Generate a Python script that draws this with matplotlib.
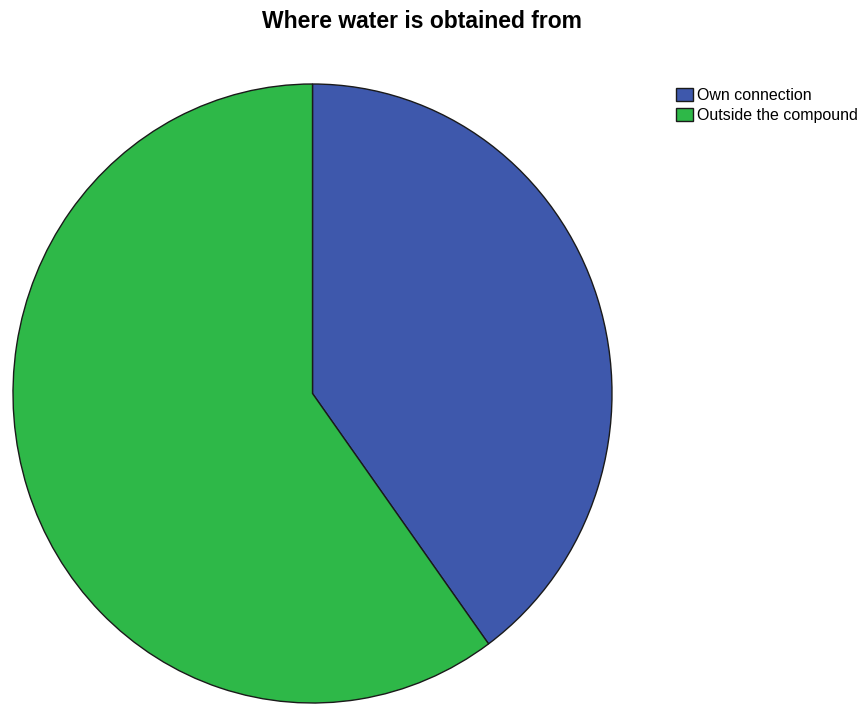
import matplotlib
matplotlib.use("Agg")
import matplotlib.pyplot as plt

plt.rcParams["font.family"] = ["Liberation Sans", "DejaVu Sans"]

# Where respondents get their water
categories = ["Own connection", "Outside the compound"]
shares = [40.0, 60.0]
colors = ["#3E58AC", "#2EB848"]

fig = plt.figure(figsize=(8.64, 7.04), dpi=100)
# pie fills the axes box; slightly taller than wide
ax = fig.add_axes([13 / 864, 1 / 704, 599 / 864, 619 / 704])

wedges, _ = ax.pie(
    shares,
    colors=colors,
    startangle=90,
    counterclock=False,
    wedgeprops={"edgecolor": "#1a1a1a", "linewidth": 1.0},
)
ax.set_xlim(-1.0, 1.0)
ax.set_ylim(-1.0, 1.0)
ax.set_aspect("auto")

fig.text(422 / 864, 1 - 21 / 704, "Where water is obtained from",
         ha="center", va="center", fontsize=16.5, fontweight="bold")

fig.legend(wedges, categories, loc="upper left",
           bbox_to_anchor=(676 / 864, 1 - 88 / 704),
           frameon=False, fontsize=11.5, handlelength=1.05, handleheight=0.8,
           handletextpad=0.25, labelspacing=0.32, borderpad=0, borderaxespad=0)

fig.savefig("out.png", dpi=100, facecolor="white")
plt.close(fig)
